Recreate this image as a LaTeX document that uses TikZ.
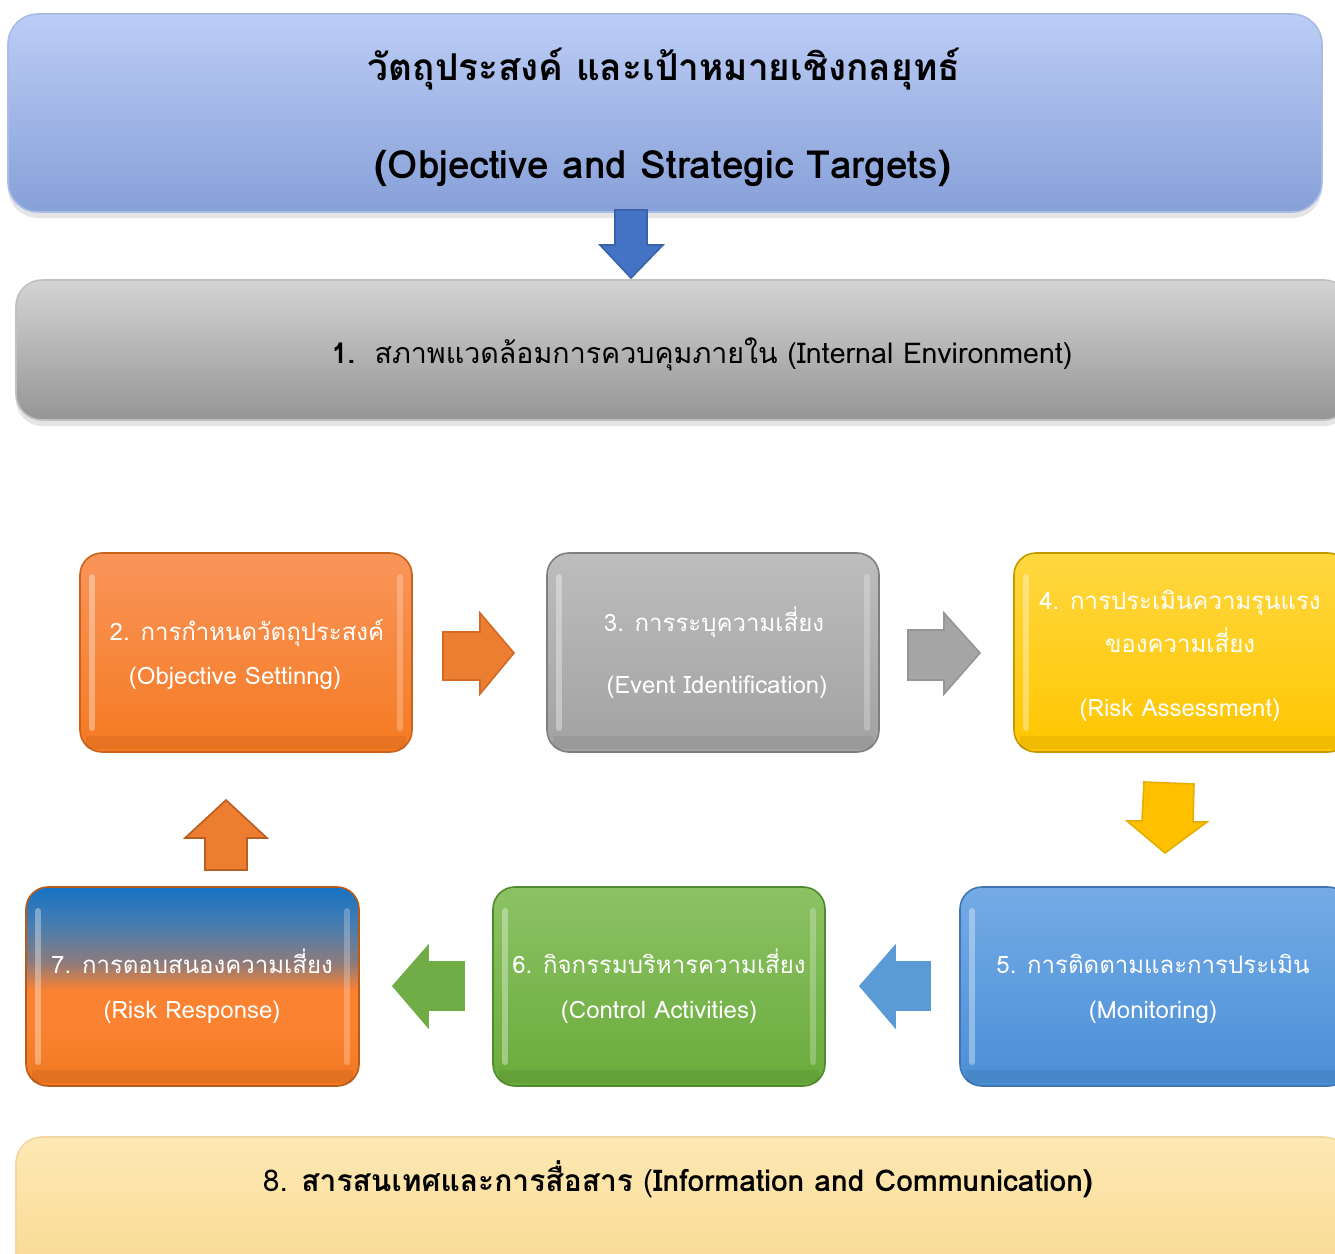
\documentclass[tikz,border=0pt]{standalone}
\usepackage{fontspec}
\setmainfont[Script=Thai]{Loma}
\usetikzlibrary{shadows,calc}
\definecolor{c7blue}{HTML}{1672C6}
\definecolor{c7steel}{HTML}{4A7DAE}
\definecolor{c7mauve}{HTML}{8E7B7C}
\definecolor{c7orange}{HTML}{FB8230}
\definecolor{c7dark}{HTML}{F07820}
\definecolor{topT}{HTML}{BCCDF6}\definecolor{topB}{HTML}{87A0D8}\definecolor{topD}{HTML}{A9BCE6}
\definecolor{oneT}{HTML}{D4D4D4}\definecolor{oneB}{HTML}{959595}\definecolor{oneD}{HTML}{C0C0C0}
\definecolor{twoT}{HTML}{F9955A}\definecolor{twoB}{HTML}{F57A22}\definecolor{twoD}{HTML}{C9621B}
\definecolor{thrT}{HTML}{BDBDBD}\definecolor{thrB}{HTML}{A2A2A2}\definecolor{thrD}{HTML}{7F7F7F}
\definecolor{fouT}{HTML}{FFD740}\definecolor{fouB}{HTML}{FFC600}\definecolor{fouD}{HTML}{C29A00}
\definecolor{fivT}{HTML}{74ABE6}\definecolor{fivB}{HTML}{4A8FD6}\definecolor{fivD}{HTML}{3F74B0}
\definecolor{sixT}{HTML}{8CC264}\definecolor{sixB}{HTML}{6AAB3C}\definecolor{sixD}{HTML}{4F8A2C}
\definecolor{sevD}{HTML}{B85A18}
\definecolor{eigT}{HTML}{FDE9B4}\definecolor{eigB}{HTML}{F9D68C}\definecolor{eigD}{HTML}{F0D8A0}
\definecolor{aBlue}{HTML}{4472C4}\definecolor{aBlueD}{HTML}{3A62A8}
\definecolor{aOrange}{HTML}{ED7D31}\definecolor{aOrangeD}{HTML}{D06A25}\definecolor{aOrangeE}{HTML}{B85E20}
\definecolor{aGray}{HTML}{A5A5A5}\definecolor{aGrayD}{HTML}{959595}
\definecolor{aYellow}{HTML}{FFC000}\definecolor{aYellowD}{HTML}{E6AE00}
\definecolor{aLBlue}{HTML}{5B9BD5}
\definecolor{aGreen}{HTML}{70AD47}
\pgfdeclareverticalshading{riskresp}{100bp}{color(0bp)=(c7dark); color(25bp)=(c7dark); color(40bp)=(c7orange); color(49bp)=(c7orange); color(56bp)=(c7mauve); color(65bp)=(c7steel); color(75bp)=(c7blue); color(100bp)=(c7blue)}
\newcommand{\boxnode}[6]{%
  \node[#6, minimum width={(#4-#2)*0.5pt}, minimum height={(#5-#3)*0.5pt}] (#1) at ({(#2+#4)/2},{(#3+#5)/2}) {};}
\newcommand{\bevel}[1]{%
  \fill[black, opacity=.06] ($(#1.south west)+(6,-16)$) rectangle ($(#1.south east)+(-6,-3)$);
  \draw[white, opacity=.35, line width=3pt, line cap=round] ($(#1.north west)+(12,24)$) -- ($(#1.south west)+(12,-24)$);
  \draw[white, opacity=.25, line width=3pt, line cap=round] ($(#1.north east)+(-12,24)$) -- ($(#1.south east)+(-12,-24)$);}
\begin{document}
\begin{tikzpicture}[x=0.5pt,y=-0.5pt,
  card/.style={rectangle, rounded corners=11pt, inner sep=0pt, outer sep=0pt, line width=0.8pt},
  wtext/.style={text=white, font=\fontsize{12}{14}\selectfont, anchor=base, inner sep=0pt},
  btext/.style={text=black, anchor=base, inner sep=0pt},
  blockarrow/.style={line width=0.8pt, line join=miter}]
\useasboundingbox (0,0) rectangle (1335,1254);
\clip (0,0) rectangle (1335,1254);
\fill[white] (0,0) rectangle (1335,1254);

% top box
\boxnode{top}{8}{14}{1322}{212}{card, rounded corners=15pt, top color=topT, bottom color=topB, draw=topD, drop shadow={shadow xshift=0pt, shadow yshift=-3pt, opacity=.2}}
\node[btext, font=\fontsize{18.5}{20}\selectfont\bfseries] (t0a) at (664,80) {วัตถุประสงค์ และเป้าหมายเชิงกลยุทธ์};
\node[btext, font=\fontsize{19.4}{21}\selectfont\bfseries] (t0b) at (663,178) {(Objective and Strategic Targets)};

% arrow down blue
\filldraw[blockarrow, fill=aBlue, draw=aBlueD] (615,210) -- (647,210) -- (647,245) -- (663,245) -- (631,278) -- (600,245) -- (615,245) -- cycle;

% box 1
\boxnode{b1}{16}{280}{1350}{420}{card, rounded corners=13pt, top color=oneT, bottom color=oneB, draw=oneD, drop shadow={shadow xshift=0pt, shadow yshift=-3pt, opacity=.2}}
\node[btext, font=\fontsize{14.3}{16}\selectfont] (t1) at (702,363) {\textbf{1.}\ \ สภาพแวดล้อมการควบคุมภายใน (Internal Environment)};

% box 2
\boxnode{b2}{80}{553}{412}{752}{card, top color=twoT, bottom color=twoB, draw=twoD}
\bevel{b2}
\node[wtext] (t2a) at (247,640) {2. การกำหนดวัตถุประสงค์};
\node[wtext] (t2b) at (235,684) {(Objective Settinng)};

% box 3
\boxnode{b3}{547}{553}{879}{752}{card, top color=thrT, bottom color=thrB, draw=thrD}
\bevel{b3}
\node[wtext] (t3a) at (714,631) {3. การระบุความเสี่ยง};
\node[wtext] (t3b) at (717,693) {(Event Identification)};

% box 4
\boxnode{b4}{1014}{553}{1350}{752}{card, top color=fouT, bottom color=fouB, draw=fouD}
\bevel{b4}
\node[wtext] (t4a) at (1180,609) {4. การประเมินความรุนแรง};
\node[wtext] (t4b) at (1180,652) {ของความเสี่ยง};
\node[wtext] (t4c) at (1180,716) {(Risk Assessment)};

% box 5
\boxnode{b5}{960}{887}{1350}{1086}{card, top color=fivT, bottom color=fivB, draw=fivD}
\bevel{b5}
\node[wtext] (t5a) at (1153,973) {5. การติดตามและการประเมิน};
\node[wtext] (t5b) at (1153,1018) {(Monitoring)};

% box 6
\boxnode{b6}{493}{887}{825}{1086}{card, top color=sixT, bottom color=sixB, draw=sixD}
\bevel{b6}
\node[wtext] (t6a) at (659,973) {6. กิจกรรมบริหารความเสี่ยง};
\node[wtext] (t6b) at (659,1018) {(Control Activities)};

% box 7
\boxnode{b7}{26}{887}{359}{1086}{card, shading=riskresp, draw=sevD}
\bevel{b7}
\node[wtext] (t7a) at (192,973) {7. การตอบสนองความเสี่ยง};
\node[wtext] (t7b) at (192,1018) {(Risk Response)};

% block arrows
\filldraw[blockarrow, fill=aOrange, draw=aOrangeD] (443,632) -- (480,632) -- (480,613) -- (514,653) -- (480,694) -- (480,680) -- (443,680) -- cycle;
\filldraw[blockarrow, fill=aGray, draw=aGrayD] (908,630) -- (944,630) -- (944,613) -- (980,653) -- (944,694) -- (944,680) -- (908,680) -- cycle;
\filldraw[blockarrow, fill=aYellow, draw=aYellowD] (1144,782) -- (1194,784) -- (1193,822) -- (1207,822) -- (1165,853) -- (1127,821) -- (1142,821) -- cycle;
\filldraw[blockarrow, fill=aLBlue, draw=aLBlue] (930,962) -- (895,962) -- (895,946) -- (860,986) -- (895,1027) -- (895,1010) -- (930,1010) -- cycle;
\filldraw[blockarrow, fill=aGreen, draw=aGreen] (464,962) -- (428,962) -- (428,946) -- (393,986) -- (428,1027) -- (428,1010) -- (464,1010) -- cycle;
\filldraw[blockarrow, fill=aOrange, draw=aOrangeE] (205,870) -- (247,870) -- (247,838) -- (267,838) -- (226,800) -- (185,838) -- (205,838) -- cycle;

% box 8
\boxnode{b8}{16}{1137}{1350}{1300}{card, rounded corners=13pt, top color=eigT, bottom color=eigB, draw=eigD}
\node[btext, font=\fontsize{15}{17}\selectfont] (t8) at (678,1191) {8. \textbf{สารสนเทศและการสื่อสาร} (\textbf{Information and Communication)}};
\end{tikzpicture}
\end{document}
